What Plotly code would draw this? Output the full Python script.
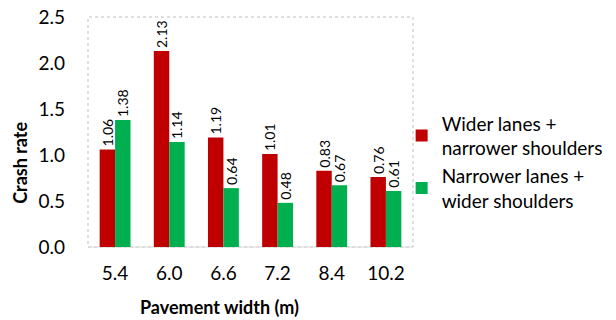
import plotly.graph_objects as go

widths = ["5.4", "6.0", "6.6", "7.2", "8.4", "10.2"]
wider_lanes = [1.06, 2.13, 1.19, 1.01, 0.83, 0.76]
narrower_lanes = [1.38, 1.14, 0.64, 0.48, 0.67, 0.61]
series_names = ["Wider lanes +<br>narrower shoulders", "Narrower lanes +<br>wider shoulders"]
y_ticks = [0, 0.5, 1.0, 1.5, 2.0, 2.5]

FONT = "Lato"

fig = go.Figure()
for name, vals, color in [(series_names[0], wider_lanes, "#C00000"),
                          (series_names[1], narrower_lanes, "#00B050")]:
    fig.add_trace(go.Bar(
        x=widths, y=vals, name=name,
        marker=dict(color=color, line=dict(width=0)),
        text=[f"{v:.2f}" for v in vals],
        textposition="outside", textangle=-90,
        textfont=dict(family=FONT, size=14, color="#000000"),
        constraintext="none", cliponaxis=False,
    ))

fig.update_layout(
    width=616, height=320,
    margin=dict(l=88, r=203, t=17, b=73, autoexpand=False),
    paper_bgcolor="white", plot_bgcolor="white",
    barmode="group", bargap=0.43, bargroupgap=0,
    font=dict(family=FONT, size=19, color="#000000"),
    showlegend=True,
    legend=dict(x=0.965, y=0.37, xanchor="left", yanchor="middle",
                font=dict(family=FONT, size=19), tracegroupgap=27,
                itemwidth=30, bgcolor="rgba(0,0,0,0)"),
    xaxis=dict(type="category", showgrid=False, zeroline=False, showline=False,
               ticks="", ticklabelstandoff=13,
               tickfont=dict(family=FONT, size=19)),
    yaxis=dict(range=[0, 2.5], tickvals=y_ticks,
               ticktext=[f"{t:.1f}" for t in y_ticks],
               showgrid=False, zeroline=False, showline=False, ticks="",
               ticklabelstandoff=22, tickfont=dict(family=FONT, size=19)),
    annotations=[
        dict(text="<b>Pavement width (m)</b>", xref="paper", yref="paper",
             x=0.406, y=-0.26, xanchor="center", yanchor="middle",
             showarrow=False, font=dict(family=FONT, size=18)),
        dict(text="<b>Crash rate</b>", xref="paper", yref="paper",
             x=-0.21, y=0.365, xanchor="center", yanchor="middle",
             textangle=-90, showarrow=False, font=dict(family=FONT, size=18)),
    ],
    shapes=[
        dict(type="rect", xref="paper", yref="paper", x0=0, x1=1, y0=0, y1=1,
             line=dict(color="#BFBFBF", width=1, dash="dot"), layer="below"),
        dict(type="line", xref="paper", yref="paper", x0=0, x1=1, y0=0, y1=0,
             line=dict(color="#D9D9D9", width=1.2), layer="below"),
    ],
)

fig.write_html("out.html")
